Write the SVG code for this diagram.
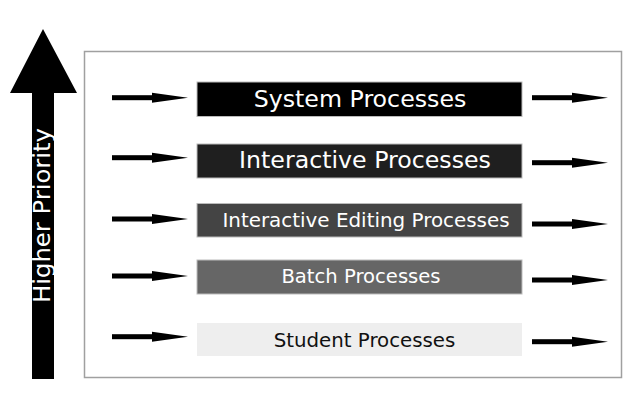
<svg xmlns="http://www.w3.org/2000/svg" width="623" height="405" viewBox="0 0 623 405">
<defs>
<style>
.lbl{font-family:"DejaVu Sans","Verdana",sans-serif;text-anchor:middle}
.arr{fill:#000}
.box{stroke:#bbb;stroke-width:1}
</style>
<g id="arrowShape">
<rect x="0" y="-2.5" width="42" height="5"/>
<polygon points="40,-5 76,0 40,5"/>
</g>
</defs>
<rect x="0" y="0" width="623" height="405" fill="#fff"/>
<g id="frame">
<rect x="84.5" y="51.5" width="537" height="326" fill="none" stroke="#a0a0a0" stroke-width="1.5"/>
</g>
<g id="priority">
<polygon points="43,29 77,93 54,93 54,379 32,379 32,93 10,93" fill="#000"/>
<text class="lbl" transform="translate(49.5,215.5) rotate(-90)" font-size="23.5" fill="#fff" textLength="175" lengthAdjust="spacingAndGlyphs">Higher Priority</text>
</g>
<g id="connectors" class="arr">
<use href="#arrowShape" transform="translate(112,97.7)"/>
<use href="#arrowShape" transform="translate(112,157.7)"/>
<use href="#arrowShape" transform="translate(112,219)"/>
<use href="#arrowShape" transform="translate(112,276)"/>
<use href="#arrowShape" transform="translate(112,336.7)"/>
<use href="#arrowShape" transform="translate(532,97.7)"/>
<use href="#arrowShape" transform="translate(532,162.7)"/>
<use href="#arrowShape" transform="translate(532,224)"/>
<use href="#arrowShape" transform="translate(532,280)"/>
<use href="#arrowShape" transform="translate(532,341.7)"/>
</g>
<g id="system">
<rect class="box" x="197" y="82" width="325" height="34.5" fill="#000"/>
<text class="lbl" x="360" y="107" font-size="23.7" fill="#fff">System Processes</text>
</g>
<g id="interactive">
<rect class="box" x="197" y="144" width="325" height="34" fill="#1f1f1f"/>
<text class="lbl" x="365" y="168" font-size="23.7" fill="#fff">Interactive Processes</text>
</g>
<g id="editing">
<rect class="box" x="197" y="203.5" width="325" height="33.5" fill="#444"/>
<text class="lbl" x="366" y="227" font-size="19.9" fill="#fff">Interactive Editing Processes</text>
</g>
<g id="batch">
<rect class="box" x="197" y="260" width="325" height="34" fill="#666"/>
<text class="lbl" x="361" y="283" font-size="19.6" fill="#fff">Batch Processes</text>
</g>
<g id="student">
<rect x="197" y="323" width="325" height="33" fill="#eeeeee"/>
<text class="lbl" x="364.5" y="347" font-size="19.8" fill="#111">Student Processes</text>
</g>
</svg>
